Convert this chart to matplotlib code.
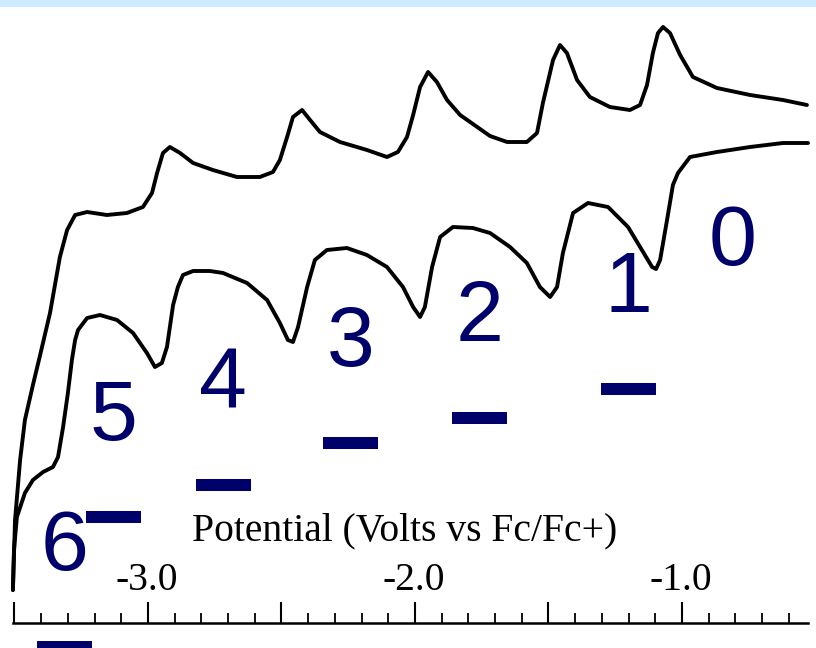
import matplotlib
matplotlib.use("Agg")
import matplotlib.pyplot as plt
from matplotlib.patches import Rectangle
from matplotlib.ticker import FixedLocator, NullFormatter

plt.rcParams['axes.unicode_minus'] = False

# ---- data: cyclic voltammogram (potential in V vs Fc/Fc+, current in arbitrary units)
# cathodic sweep (lower trace)
fwd_V = [-3.506, -3.502, -3.491, -3.461, -3.431, -3.393, -3.356, -3.337, -3.318, -3.300,
         -3.285, -3.273, -3.262, -3.228, -3.180, -3.116, -3.056, -3.004, -2.974, -2.948,
         -2.929, -2.906, -2.888, -2.869, -2.831, -2.768, -2.719, -2.629, -2.554, -2.506,
         -2.476, -2.457, -2.438, -2.404, -2.375, -2.330, -2.255, -2.180, -2.105, -2.045,
         -2.007, -1.981, -1.963, -1.936, -1.906, -1.858, -1.783, -1.719, -1.644, -1.581,
         -1.532, -1.494, -1.468, -1.446, -1.408, -1.352, -1.277, -1.202, -1.157, -1.112,
         -1.097, -1.082, -1.056, -1.034, -1.015, -0.970, -0.869, -0.745, -0.622, -0.528]
fwd_I = [3.3, 7.3, 10.6, 13.0, 14.3, 15.1, 15.6, 16.6, 19.6, 23.0,
         26.3, 28.3, 29.3, 30.5, 30.8, 30.3, 29.0, 27.0, 25.6, 26.0,
         27.6, 31.8, 33.6, 34.8, 35.2, 35.2, 35.0, 34.0, 32.3, 30.0,
         28.3, 28.1, 29.6, 33.6, 36.3, 37.3, 37.5, 36.8, 35.6, 33.6,
         31.6, 30.6, 31.6, 35.6, 38.6, 39.6, 39.5, 39.0, 37.6, 36.0,
         33.6, 32.6, 33.6, 37.0, 41.0, 42.0, 41.6, 39.6, 37.6, 35.6,
         35.4, 36.3, 40.3, 43.8, 45.0, 46.6, 47.1, 47.6, 48.0, 48.0]
# anodic sweep (upper trace)
rev_V = [-3.506, -3.498, -3.479, -3.461, -3.431, -3.404, -3.367, -3.330, -3.303, -3.273,
         -3.228, -3.154, -3.079, -3.019, -2.985, -2.966, -2.944, -2.918, -2.880, -2.831,
         -2.757, -2.667, -2.581, -2.532, -2.506, -2.479, -2.457, -2.423, -2.393, -2.356,
         -2.281, -2.180, -2.105, -2.064, -2.030, -2.007, -1.981, -1.951, -1.918, -1.880,
         -1.831, -1.783, -1.719, -1.655, -1.581, -1.543, -1.521, -1.483, -1.457, -1.431,
         -1.393, -1.345, -1.270, -1.195, -1.157, -1.131, -1.109, -1.090, -1.071, -1.045,
         -1.007, -0.959, -0.869, -0.745, -0.622, -0.532]
rev_I = [3.3, 10.3, 16.3, 20.3, 23.8, 26.8, 31.0, 36.6, 39.3, 40.8,
         41.1, 40.8, 41.0, 41.6, 43.0, 45.0, 47.0, 47.6, 47.0, 46.0,
         45.3, 44.6, 44.6, 45.1, 46.3, 48.6, 50.6, 51.3, 50.3, 49.1,
         48.1, 47.3, 46.6, 47.1, 48.6, 50.8, 53.6, 55.1, 54.1, 52.3,
         50.8, 49.9, 48.7, 48.1, 48.1, 49.0, 52.0, 56.3, 57.8, 57.0,
         54.3, 52.6, 51.6, 51.3, 51.8, 53.8, 57.0, 59.0, 59.6, 59.0,
         56.8, 54.6, 53.5, 52.8, 52.3, 51.8]

# charge-state labels (C60^n-) and their anchor positions
charge_labels = ['0', '1', '2', '3', '4', '5', '6']
label_V = [-0.809, -1.202, -1.757, -2.240, -2.719, -3.131, -3.311]
label_I = [35.8, 31.1, 28.2, 25.7, 21.5, 18.3, 5.3]
bar_labels = ['1', '2', '3', '4', '5', '6']

# axis ticks
major_ticks = [-3.5, -3.0, -2.5, -2.0, -1.5, -1.0]
minor_ticks = [-3.4, -3.3, -3.2, -3.1, -2.9, -2.8, -2.7, -2.6, -2.4, -2.3, -2.2, -2.1,
               -1.9, -1.8, -1.7, -1.6, -1.4, -1.3, -1.2, -1.1, -0.9, -0.8, -0.7, -0.6]
tick_labels = ['-3.0', '-2.0', '-1.0']
tick_label_pos = [-3.0, -2.0, -1.0]
xlabel = 'Potential (Volts vs Fc/Fc+)'

NAVY = '#00006b'

fig = plt.figure(figsize=(8.16, 6.48), dpi=100)
ax = fig.add_axes([0, 0, 1, 1])
ax.set_xlim(-3.5543, -0.4981)
ax.set_ylim(-2.5, 62.3)

ax.plot(fwd_V, fwd_I, color='black', lw=2.8, solid_joinstyle='round', solid_capstyle='round')
ax.plot(rev_V, rev_I, color='black', lw=2.8, solid_joinstyle='round', solid_capstyle='round')

# axis
for s in ['left', 'right', 'top']:
    ax.spines[s].set_visible(False)
ax.spines['bottom'].set_position(('data', 0))
ax.spines['bottom'].set_bounds(-3.506, -0.528)
ax.spines['bottom'].set_linewidth(1.8)
ax.yaxis.set_visible(False)
ax.xaxis.set_major_locator(FixedLocator(major_ticks))
ax.xaxis.set_minor_locator(FixedLocator(minor_ticks))
ax.xaxis.set_major_formatter(NullFormatter())
ax.tick_params(axis='x', which='major', direction='in', length=15, width=1.5)
ax.tick_params(axis='x', which='minor', direction='in', length=7.5, width=1.3)

for v, t in zip(tick_label_pos, tick_labels):
    ax.text(v - 0.006, 3.3, t, ha='center', va='baseline', fontsize=28.5,
            family='Liberation Serif', color='black')
ax.text(-2.039, 8.3, xlabel, ha='center', va='baseline', fontsize=28.5,
        family='Liberation Serif', color='black')

# charge labels with bars
for t, v, i in zip(charge_labels, label_V, label_I):
    ax.text(v, i, t, ha='center', va='baseline', fontsize=62,
            family='Liberation Sans', color=NAVY)
    if t in bar_labels:
        ax.add_patch(Rectangle((v - 0.103, i - 8.3), 0.206, 1.2, color=NAVY, lw=0))

fig.add_artist(Rectangle((0, 1 - 7 / 648), 1, 7 / 648, transform=fig.transFigure,
                         color='#cdebfe', lw=0))

fig.savefig('out.png', dpi=100)
